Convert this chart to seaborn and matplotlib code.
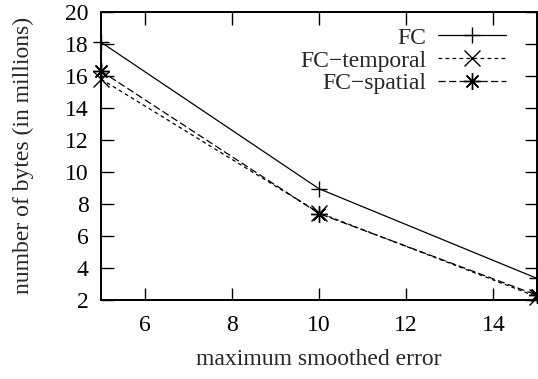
import matplotlib
matplotlib.use("Agg")
import matplotlib.pyplot as plt
import seaborn as sns
import pandas as pd

x_vals = [5, 10, 15]
fc = [18.1, 8.95, 3.35]
fc_temporal = [15.8, 7.45, 2.2]
fc_spatial = [16.3, 7.4, 2.3]
series_names = ["FC", "FC\u2212temporal", "FC\u2212spatial"]
x_ticks = [6, 8, 10, 12, 14]
y_ticks = [2, 4, 6, 8, 10, 12, 14, 16, 18, 20]

sns.set_style("ticks")
plt.rcParams['font.family'] = ['Liberation Serif', 'DejaVu Serif']

fig = plt.figure(figsize=(5.38, 3.79), dpi=100)
ax = fig.add_axes([0.1877, 0.2084, 0.8104, 0.7605])

styles = [
    dict(marker='+', ls='-', ms=12),
    dict(marker='x', ls=(0, (3.0, 2.6)), ms=11),
    dict(marker=(8, 2, 0), ls=(0, (5.8, 2.6)), ms=12),
]
for name, vals, st in zip(series_names, [fc, fc_temporal, fc_spatial], styles):
    df = pd.DataFrame({"x": x_vals, "y": vals})
    sns.lineplot(data=df, x="x", y="y", ax=ax, color='black', lw=0.9,
                 marker=st['marker'], markersize=st['ms'], markeredgewidth=1.0,
                 markeredgecolor='black', markerfacecolor='none',
                 linestyle=st['ls'], label=name, clip_on=False)

ax.set_xlim(5, 15)
ax.set_ylim(2, 20)
ax.set_xticks(x_ticks)
ax.set_yticks(y_ticks)
ax.tick_params(direction='in', length=9, width=1.0, top=True, right=True,
               labelsize=17, colors='black')
ax.tick_params(axis='x', pad=11)
ax.tick_params(axis='y', pad=9)
for s in ax.spines.values():
    s.set_linewidth(1.4)
    s.set_color('black')
ax.set_xlabel("maximum smoothed error", fontsize=17, labelpad=9)
ax.set_ylabel("number of bytes (in millions)", fontsize=17, labelpad=22)

leg = ax.legend(loc='upper right', frameon=False, markerfirst=False,
                fontsize=17, handlelength=2.9, handletextpad=0.5,
                labelspacing=0.06, borderaxespad=0.0, borderpad=0.0,
                bbox_to_anchor=(0.93, 0.947))
for t in leg.get_texts():
    t.set_ha('right')
leg._legend_box.align = 'right'

fig.savefig("out.png", dpi=100)
